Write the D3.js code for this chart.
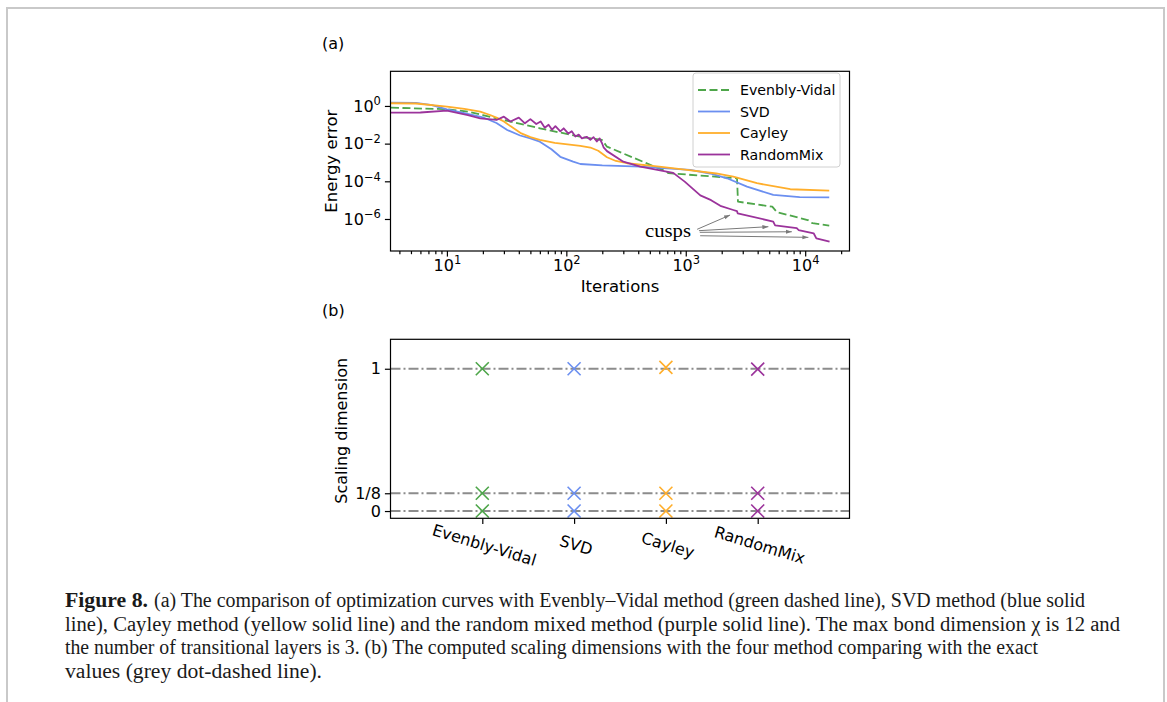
<!DOCTYPE html>
<html>
<head>
<meta charset="utf-8">
<script src="https://cdn.jsdelivr.net/npm/d3@7"></script>
<style>
  body { margin: 0; background: #ffffff; }
  svg { display: block; font-family: 'DejaVu Sans', sans-serif; }
</style>
</head>
<body>
<svg id="svg"></svg>
<script>
// ---- panel (a): energy error vs iterations
const seriesNames = ['Evenbly-Vidal', 'SVD', 'Cayley', 'RandomMix']

const evIter = [3.4, 10, 15, 20, 26, 60, 131, 199, 219, 696, 713, 2686, 2737, 5300, 5808, 10500, 11500, 15900]
const evErr = [0.81, 0.67, 0.5, 0.33, 0.22, 0.065, 0.023, 0.0156, 0.0069, 3.2e-4, 2.7e-4, 1.45e-4, 8.3e-6, 4.5e-6, 2.3e-6, 8.8e-7, 6e-7, 4.5e-7]

const svdIter = [3.4, 5.5, 7.5, 10, 14, 20, 26, 32, 41, 50, 60, 75, 89, 114, 131, 200, 416, 1090, 1600, 2215, 3258, 5406, 9000, 15900]
const svdErr = [1.5, 1.45, 1.1, 0.65, 0.42, 0.25, 0.125, 0.053, 0.027, 0.019, 0.0127, 0.005, 0.002, 0.0011, 8.3e-4, 7e-4, 6e-4, 4e-4, 2.6e-4, 1.45e-4, 5.2e-5, 1.9e-5, 1.45e-5, 1.4e-5]

const cayIter = [3.4, 5.5, 10, 14, 19, 23, 26, 30, 34, 42, 50, 60, 80, 131, 159, 185, 219, 260, 322, 600, 1023, 1800, 2500, 3948, 7504, 15900]
const cayErr = [1.39, 1.35, 0.92, 0.7, 0.5, 0.33, 0.24, 0.15, 0.085, 0.035, 0.022, 0.016, 0.011, 0.0075, 0.0062, 0.0042, 0.0019, 0.0012, 9.1e-4, 6e-4, 4e-4, 2.6e-4, 1.76e-4, 7.9e-5, 3.8e-5, 3.2e-5]

const rmIter = [3.4, 6, 10, 15, 19, 26, 30, 34, 40, 45, 50, 56, 61, 66, 71, 76, 81, 89, 95, 104, 111, 119, 127, 135, 148, 159, 169, 180, 190, 199, 205, 219, 300, 416, 785, 980, 1324, 1630, 1947, 2500, 2686, 2720, 5400, 5600, 8500, 8800, 11800, 12400, 16000]
const rmErr = [0.44, 0.45, 0.56, 0.33, 0.22, 0.18, 0.27, 0.15, 0.24, 0.12, 0.2, 0.11, 0.15, 0.07, 0.1, 0.055, 0.085, 0.045, 0.065, 0.034, 0.045, 0.024, 0.03, 0.019, 0.023, 0.016, 0.022, 0.013, 0.019, 0.0105, 0.0064, 0.004, 0.0011, 6e-4, 2.8e-4, 9.6e-5, 1.8e-5, 1e-5, 5e-6, 3e-6, 2.6e-6, 2e-6, 7.3e-7, 4.6e-7, 3.3e-7, 2.6e-7, 1.7e-7, 9.4e-8, 6.2e-8]

const xTicksA = [10, 100, 1000, 10000]
const yTicksA = [1, 1e-2, 1e-4, 1e-6]

// cusps annotation: arrow start [iter, err] and end [iter, err]
const cuspText = [456, 1.06e-7]
const cuspFrom = [[1245, 2.83e-7], [1290, 2.4e-7], [1310, 1.96e-7], [1320, 1.29e-7]]
const cuspTo = [[2350, 1.62e-6], [4920, 3.9e-7], [7730, 2.1e-7], [10640, 1.06e-7]]

// ---- panel (b): scaling dimensions
const methods = ['Evenbly-Vidal', 'SVD', 'Cayley', 'RandomMix']
const exactDims = [0, 0.125, 1]
const exactLabels = ['0', '1/8', '1']
const evDims = [0, 0.125, 1.0]
const svdDims = [0, 0.125, 1.0]
const cayDims = [0, 0.125, 1.01]
const rmDims = [0, 0.125, 0.997]

const captionLines = [
  ['Figure 8.', '(a) The comparison of optimization curves with Evenbly\u2013Vidal method (green dashed line), SVD method (blue solid'],
  ['', 'line), Cayley method (yellow solid line) and the random mixed method (purple solid line). The max bond dimension \u03c7 is 12 and'],
  ['', 'the number of transitional layers is 3. (b) The computed scaling dimensions with the four method comparing with the exact'],
  ['', 'values (grey dot-dashed line).']
]

const colors = ['#4ea64a', '#6b8ff0', '#ffae2b', '#9b339b']

const svg = d3.select('#svg')
  .attr('width', 1167)
  .attr('height', 702)
  .style('background-color', '#ffffff')

// page frame
svg.append('path')
  .attr('d', 'M7,702V8H1164V702')
  .attr('fill', 'none')
  .attr('stroke', '#c9c9c9')
  .attr('stroke-width', 2)

const boxA = {left: 390.5, right: 849.5, top: 71.3, bottom: 251}
const boxB = {left: 390.5, right: 849.5, top: 339.3, bottom: 518.3}

const xA = d3.scaleLog().domain([3.37, 23500]).range([boxA.left, boxA.right])
const yA = d3.scaleLog().domain([2e-8, 69]).range([boxA.bottom, boxA.top])

function sup10 (sel) {
  sel.each(function (d) {
    const e = Math.round(Math.log10(d))
    const t = d3.select(this).text(null)
    t.append('tspan').text('10')
    t.append('tspan').attr('dy', '-0.55em').attr('font-size', '11.5px')
      .text(e < 0 ? '\u2212' + (-e) : e)
  })
}

svg.append('text').attr('x', 322).attr('y', 49).attr('font-size', 16).text('(a)')

const gA = svg.append('g')
const clip = svg.append('clipPath').attr('id', 'clipA')
clip.append('rect').attr('x', boxA.left).attr('y', boxA.top)
  .attr('width', boxA.right - boxA.left).attr('height', boxA.bottom - boxA.top)

const minorX = []
for (let p = 0; p <= 4; p++) {
  for (let m = 2; m <= 9; m++) {
    const v = m * Math.pow(10, p)
    if (v > 3.37 && v < 23500) minorX.push(v)
  }
}

gA.append('g')
  .attr('transform', 'translate(0,' + boxA.bottom + ')')
  .call(d3.axisBottom(xA).tickValues(minorX).tickSize(3.2).tickFormat(''))
  .call(g => g.select('.domain').remove())

const xAxisA = gA.append('g')
  .attr('transform', 'translate(0,' + boxA.bottom + ')')
  .call(d3.axisBottom(xA).tickValues(xTicksA).tickSize(5.6))
  .call(g => g.select('.domain').remove())
xAxisA.selectAll('text')
  .attr('y', 19.7).attr('dy', 0)
  .attr('font-size', 16).attr('font-family', 'DejaVu Sans').attr('fill', '#000')
  .call(sup10)

const yAxisA = gA.append('g')
  .attr('transform', 'translate(' + boxA.left + ',0)')
  .call(d3.axisLeft(yA).tickValues(yTicksA).tickSize(5.6).tickPadding(4))
  .call(g => g.select('.domain').remove())
yAxisA.selectAll('text')
  .attr('dy', '0.32em')
  .attr('font-size', 16).attr('font-family', 'DejaVu Sans').attr('fill', '#000')
  .call(sup10)
gA.selectAll('.tick line').attr('stroke', '#000').attr('stroke-width', 1.2)

gA.append('text')
  .attr('transform', 'translate(337,' + ((boxA.top + boxA.bottom) / 2) + ') rotate(-90)')
  .attr('text-anchor', 'middle').attr('font-size', 16.5)
  .text('Energy error')
gA.append('text')
  .attr('x', (boxA.left + boxA.right) / 2).attr('y', 292)
  .attr('text-anchor', 'middle').attr('font-size', 16.5)
  .text('Iterations')

const seriesA = [
  {name: seriesNames[0], iter: evIter, err: evErr, color: colors[0], dash: '8,3.5'},
  {name: seriesNames[1], iter: svdIter, err: svdErr, color: colors[1], dash: null},
  {name: seriesNames[2], iter: cayIter, err: cayErr, color: colors[2], dash: null},
  {name: seriesNames[3], iter: rmIter, err: rmErr, color: colors[3], dash: null}
]

const line = d3.line()
  .x(d => xA(d[0]))
  .y(d => yA(d[1]))

const linesG = gA.append('g').attr('clip-path', 'url(#clipA)')
seriesA.forEach(s => {
  linesG.append('path')
    .datum(s.iter.map((v, i) => [v, s.err[i]]))
    .attr('d', line)
    .attr('fill', 'none')
    .attr('stroke', s.color)
    .attr('stroke-width', 1.8)
    .attr('stroke-linejoin', 'round')
    .attr('stroke-dasharray', s.dash)
})

// cusps annotation
const defs = svg.append('defs')
defs.append('marker')
  .attr('id', 'arr')
  .attr('viewBox', '0 0 10 10')
  .attr('refX', 10).attr('refY', 5)
  .attr('markerWidth', 6).attr('markerHeight', 6)
  .attr('orient', 'auto')
  .append('path').attr('d', 'M0,1.5L10,5L0,8.5z').attr('fill', '#7a7a7a')

cuspFrom.forEach((f, i) => {
  gA.append('line')
    .attr('x1', xA(f[0])).attr('y1', yA(f[1]))
    .attr('x2', xA(cuspTo[i][0])).attr('y2', yA(cuspTo[i][1]))
    .attr('stroke', '#7a7a7a').attr('stroke-width', 1)
    .attr('marker-end', 'url(#arr)')
})
gA.append('text')
  .attr('x', xA(cuspText[0])).attr('y', yA(cuspText[1]))
  .attr('font-family', 'Liberation Serif, serif').attr('font-size', 19)
  .attr('textLength', 46).attr('lengthAdjust', 'spacingAndGlyphs')
  .text('cusps')

gA.append('rect')
  .attr('x', boxA.left).attr('y', boxA.top)
  .attr('width', boxA.right - boxA.left).attr('height', boxA.bottom - boxA.top)
  .attr('fill', 'none').attr('stroke', '#000').attr('stroke-width', 1.2)

// legend
const legend = gA.append('g').attr('transform', 'translate(693,73)')
legend.append('rect')
  .attr('width', 147).attr('height', 94).attr('rx', 3)
  .attr('fill', 'rgba(255,255,255,0.8)').attr('stroke', '#d0d0d0')
seriesA.forEach((s, i) => {
  const row = legend.append('g').attr('transform', 'translate(0,' + (17 + i * 21.5) + ')')
  row.append('line')
    .attr('x1', 5).attr('x2', 37)
    .attr('stroke', s.color).attr('stroke-width', 1.8)
    .attr('stroke-dasharray', s.dash)
  row.append('text')
    .attr('x', 47).attr('dy', '0.36em').attr('font-size', 14.2)
    .text(s.name)
})

// ---- panel (b)
svg.append('text').attr('x', 322).attr('y', 316).attr('font-size', 16).text('(b)')

const xB = d3.scaleLinear().domain([-1, 4]).range([boxB.left, boxB.right])
const yB = d3.scaleLinear().domain([-0.051, 1.207]).range([boxB.bottom, boxB.top])
const gB = svg.append('g')

gB.selectAll('.exact')
  .data(exactDims)
  .enter()
  .append('line')
  .attr('class', 'exact')
  .attr('x1', boxB.left).attr('x2', boxB.right)
  .attr('y1', d => yB(d)).attr('y2', d => yB(d))
  .attr('stroke', '#8c8c8c').attr('stroke-width', 2)
  .attr('stroke-dasharray', '10,3,2,3')

const dimsB = [evDims, svdDims, cayDims, rmDims]
dimsB.forEach((vals, i) => {
  gB.selectAll('.mk' + i)
    .data(vals)
    .enter()
    .append('path')
    .attr('class', 'mk' + i)
    .attr('transform', d => 'translate(' + xB(i) + ',' + yB(d) + ')')
    .attr('d', 'M-6.5,-6.5L6.5,6.5M-6.5,6.5L6.5,-6.5')
    .attr('stroke', colors[i]).attr('stroke-width', 1.6)
    .attr('fill', 'none')
})

const xAxisB = gB.append('g')
  .attr('transform', 'translate(0,' + boxB.bottom + ')')
  .call(d3.axisBottom(xB).tickValues([0, 1, 2, 3]).tickSize(5.6).tickFormat(''))
  .call(g => g.select('.domain').remove())
gB.selectAll('.xlab')
  .data(methods)
  .enter()
  .append('text')
  .attr('class', 'xlab')
  .attr('transform', (d, i) => 'translate(' + (xB(i) + 2) + ',' + 545 + ') rotate(17)')
  .attr('text-anchor', 'middle').attr('dy', '0.35em')
  .attr('font-size', 16)
  .text(d => d)

const yAxisB = gB.append('g')
  .attr('transform', 'translate(' + boxB.left + ',0)')
  .call(d3.axisLeft(yB).tickValues(exactDims).tickSize(5.6).tickPadding(4)
    .tickFormat((d, i) => exactLabels[i]))
  .call(g => g.select('.domain').remove())
yAxisB.selectAll('text')
  .attr('font-size', 16).attr('font-family', 'DejaVu Sans').attr('fill', '#000')
gB.selectAll('.tick line').attr('stroke', '#000').attr('stroke-width', 1.2)

gB.append('text')
  .attr('transform', 'translate(347,' + ((boxB.top + boxB.bottom) / 2 + 2) + ') rotate(-90)')
  .attr('text-anchor', 'middle').attr('font-size', 16)
  .text('Scaling dimension')

gB.append('rect')
  .attr('x', boxB.left).attr('y', boxB.top)
  .attr('width', boxB.right - boxB.left).attr('height', boxB.bottom - boxB.top)
  .attr('fill', 'none').attr('stroke', '#000').attr('stroke-width', 1.2)

// ---- caption
const lineEnds = [1085, 1120, 1038, 322]
const baselines = [607, 630.5, 654, 677.5]
const cap = svg.append('g')
  .attr('font-family', 'Liberation Serif, serif')
  .attr('font-size', 20)
  .attr('fill', '#1a1a1a')
captionLines.forEach((l, i) => {
  let x0 = 65
  if (l[0]) {
    cap.append('text')
      .attr('x', 65).attr('y', baselines[i])
      .attr('font-weight', 'bold')
      .attr('textLength', 83).attr('lengthAdjust', 'spacingAndGlyphs')
      .text(l[0])
    x0 = 154
  }
  cap.append('text')
    .attr('x', x0).attr('y', baselines[i])
    .attr('textLength', lineEnds[i] - x0).attr('lengthAdjust', 'spacingAndGlyphs')
    .text(l[1])
})
</script>
</body>
</html>
